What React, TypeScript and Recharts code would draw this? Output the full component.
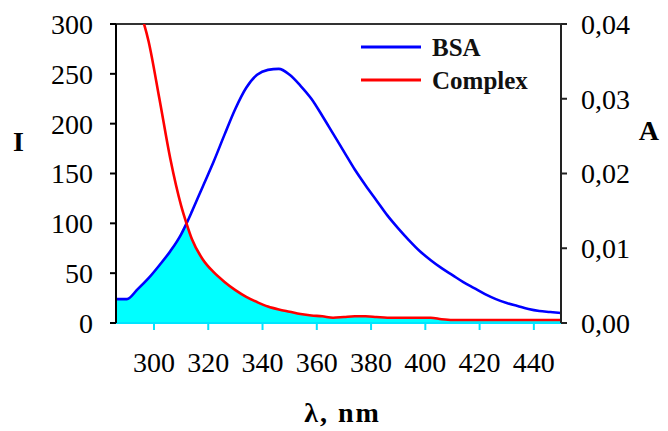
import React from 'react';
import {
  ComposedChart,
  Line,
  Area,
  XAxis,
  YAxis,
  ReferenceLine,
  Legend,
} from 'recharts';

const wavelengths = [
  286, 290, 294, 298, 302, 306, 310, 312, 314, 318, 322, 326, 330, 334, 338, 342, 346, 350,
  354, 358, 362, 366, 370, 374, 378, 382, 386, 390, 394, 398, 402, 406, 410, 414, 418,
  422, 426, 430, 434, 438, 442, 446, 450,
];
const bsaValues = [
  24, 24, 34, 45, 58, 72, 89, 100, 112, 137, 162, 189, 215, 236, 249, 254, 255, 249,
  238, 225, 208, 190, 172, 154, 138, 123, 108, 95, 83, 72, 63, 55, 48, 41, 35,
  29, 24, 20, 17, 14, 12, 11, 10,
];
const complexValues: (number | null)[] = [
  null, null, 0.0427, 0.0377, 0.03, 0.022, 0.0157, 0.0133, 0.0112, 0.0085, 0.0068, 0.0055,
  0.0044, 0.0035, 0.0028, 0.0022, 0.0018, 0.0015, 0.0012, 0.001, 0.0009, 0.0007, 0.0008,
  0.0009, 0.0009, 0.0008, 0.0007, 0.0007, 0.0007, 0.0007, 0.0007, 0.0005, 0.0004, 0.0004,
  0.0004, 0.0004, 0.0004, 0.0004, 0.0004, 0.0004, 0.0004, 0.0004, 0.0004,
];
const xTicks = [300, 320, 340, 360, 380, 400, 420, 440];
const leftTicks = [0, 50, 100, 150, 200, 250, 300];
const rightTicks = [0, 0.01, 0.02, 0.03, 0.04];
const seriesNames = ['BSA', 'Complex'];

const LEFT_MAX = 300;
const RIGHT_MAX = 0.04;

const data = wavelengths.map((w, i) => {
  const b = bsaValues[i];
  const c = complexValues[i];
  const cScaled = c == null ? Infinity : (c / RIGHT_MAX) * LEFT_MAX;
  return { w, bsa: b, complex: c, overlap: Math.min(b, cScaled) };
});

const FONT = '"Liberation Serif", "Times New Roman", serif';
const tickStyle = { fontFamily: FONT, fontSize: 28, fill: '#000' };
const titleStyle = { fontFamily: FONT, fontSize: 28, fontWeight: 'bold', fill: '#000' };

const LegendContent = () => {
  const colors = ['#0000ff', '#ff0000'];
  return (
    <div style={{ fontFamily: FONT, fontWeight: 'bold', fontSize: 25, color: '#111' }}>
      {seriesNames.map((n, i) => (
        <div key={n} style={{ display: 'flex', alignItems: 'center', height: 33 }}>
          <svg width={60} height={33} style={{ display: 'block' }}>
            <line x1={0} x2={60} y1={16} y2={16} stroke={colors[i]} strokeWidth={3} />
          </svg>
          <span style={{ marginLeft: 11, lineHeight: '33px' }}>{n}</span>
        </div>
      ))}
    </div>
  );
};

export default function App() {
  return (
    <ComposedChart
      width={660}
      height={423}
      data={data}
      margin={{ top: 16, right: 0, bottom: 8, left: 0 }}
    >
      <XAxis
        dataKey="w"
        type="number"
        domain={[286, 450]}
        ticks={xTicks}
        allowDataOverflow
        tick={tickStyle}
        tickSize={7}
        tickMargin={22}
        stroke="#00e5ff"
        axisLine={{ stroke: '#00e5ff', strokeWidth: 2 }}
        tickLine={{ stroke: '#00e5ff', strokeWidth: 2 }}
        height={100}
        label={{
          value: 'λ, nm',
          position: 'insideBottom',
          offset: 1,
          dx: 4,
          style: { ...titleStyle, letterSpacing: 2 },
        }}
      />
      <YAxis
        yAxisId="left"
        domain={[0, LEFT_MAX]}
        ticks={leftTicks}
        width={108}
        tick={tickStyle}
        tickSize={6}
        tickMargin={17}
        axisLine={{ stroke: '#000', strokeWidth: 2 }}
        tickLine={{ stroke: '#000', strokeWidth: 2 }}
        label={{
          value: 'I',
          position: 'insideLeft',
          offset: 5,
          dy: -32,
          style: titleStyle,
        }}
      />
      <YAxis
        yAxisId="right"
        orientation="right"
        domain={[0, RIGHT_MAX]}
        ticks={rightTicks}
        allowDataOverflow
        width={107}
        tick={tickStyle}
        tickFormatter={(v: number) => v.toFixed(2).replace('.', ',')}
        tickSize={6}
        tickMargin={14}
        axisLine={{ stroke: '#222', strokeWidth: 2 }}
        tickLine={{ stroke: '#222', strokeWidth: 2 }}
        label={{
          value: 'A',
          position: 'insideRight',
          offset: 9,
          dy: -43,
          style: titleStyle,
        }}
      />
      <ReferenceLine yAxisId="left" y={LEFT_MAX} stroke="#333" strokeWidth={2} />
      <Area
        yAxisId="left"
        dataKey="overlap"
        type="monotone"
        stroke="none"
        fill="#00ffff"
        fillOpacity={1}
        isAnimationActive={false}
        legendType="none"
      />
      <Line
        yAxisId="left"
        dataKey="bsa"
        name={seriesNames[0]}
        type="monotone"
        stroke="#0000ff"
        strokeWidth={2.6}
        dot={false}
        isAnimationActive={false}
      />
      <Line
        yAxisId="right"
        dataKey="complex"
        name={seriesNames[1]}
        type="monotone"
        stroke="#ff0000"
        strokeWidth={2.6}
        dot={false}
        connectNulls={false}
        isAnimationActive={false}
      />
      <Legend
        layout="horizontal"
        verticalAlign="middle"
        align="center"
        content={<LegendContent />}
        wrapperStyle={{ position: 'absolute', left: 353, top: 23, width: 240 }}
      />
    </ComposedChart>
  );
}
